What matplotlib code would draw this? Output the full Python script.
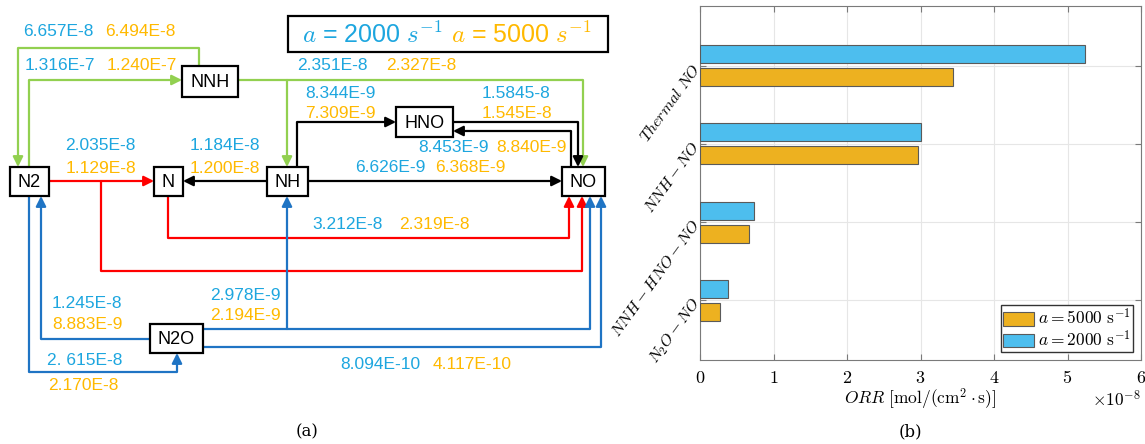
import numpy as np
import matplotlib.pyplot as plt
from matplotlib.patches import Rectangle

plt.rcParams['mathtext.fontset'] = 'cm'
plt.rcParams['font.family'] = ['Liberation Sans', 'DejaVu Sans']

# (b) ORR of each NO pathway, in 1e-8 mol/(cm2 s)
pathways = [r'$N_2O-NO$', r'$NNH-HNO-NO$', r'$NNH-NO$', r'$Thermal\ NO$']
orr_2000 = [0.38, 0.74, 3.01, 5.24]
orr_5000 = [0.27, 0.67, 2.96, 3.44]

# (a) reaction rates written along each path
rate_2000 = ['6.657E-8', '1.316E-7', '2.351E-8', '8.344E-9', '1.5845-8', '8.453E-9',
             '6.626E-9', '1.184E-8', '2.035E-8', '3.212E-8', '1.245E-8', '2. 615E-8',
             '2.978E-9', '8.094E-10']
rate_5000 = ['6.494E-8', '1.240E-7', '2.327E-8', '7.309E-9', '1.545E-8', '8.840E-9',
             '6.368E-9', '1.200E-8', '1.129E-8', '2.319E-8', '8.883E-9', '2.170E-8',
             '2.194E-9', '4.117E-10']

# layout of the path diagram (pixel units)
nodes = {'N2': (10, 167, 39, 29), 'N': (154, 167, 29, 29), 'NH': (267, 167, 41, 29),
         'NNH': (182, 66, 56, 31), 'HNO': (396, 107, 57, 30), 'NO': (562, 167, 43, 29),
         'N2O': (150, 324, 53, 29)}
# x/y of the 2000 label and of the 5000 label
label_pos = [(23, 32, 105, 32), (25, 66, 107, 66), (297, 66, 386, 66),
             (305, 93, 305, 113), (482, 93, 482, 113), (418, 147, 496, 147),
             (355, 167, 435, 167), (190, 145, 190, 168), (65, 145, 66, 168),
             (312, 224, 399, 224), (52, 303, 52, 324), (47, 360, 48, 385),
             (210, 295, 210, 315), (340, 364, 433, 364)]
GREEN, RED, BLUE, BLACK = '#92D050', '#FF0000', '#1F74C4', 'black'
paths = [
    (GREEN, [(199, 66), (199, 48), (18, 48), (18, 167)]),
    (GREEN, [(29, 167), (29, 80), (182, 80)]),
    (GREEN, [(238, 80), (583, 80), (583, 167)]),
    (GREEN, [(287, 80), (287, 167)]),
    (BLACK, [(297, 167), (297, 122), (396, 122)]),
    (BLACK, [(453, 122), (578, 122), (578, 167)]),
    (BLACK, [(571, 167), (571, 131), (453, 131)]),
    (BLACK, [(308, 181), (562, 181)]),
    (BLACK, [(267, 181), (183, 181)]),
    (RED, [(49, 181), (154, 181)]),
    (RED, [(101, 181), (101, 271), (582, 271), (582, 196)]),
    (RED, [(168, 196), (168, 238), (569, 238), (569, 196)]),
    (BLUE, [(150, 339), (41, 339), (41, 196)]),
    (BLUE, [(29, 196), (29, 372), (177, 372), (177, 353)]),
    (BLUE, [(203, 329), (590, 329), (590, 196)]),
    (BLUE, [(287, 329), (287, 196)]),
    (BLUE, [(203, 347), (601, 347), (601, 196)]),
]
C2000, C5000 = '#1DA6DF', '#FFB900'

fig = plt.figure(figsize=(11.45, 4.44), dpi=100)

# ---------------- (a)
ax1 = fig.add_axes([0, 0, 620 / 1145, 1])
ax1.set_xlim(0, 620)
ax1.set_ylim(444, 0)
ax1.axis('off')

for col, pts in paths:
    xs = [p[0] for p in pts]
    ys = [p[1] for p in pts]
    ax1.plot(xs[:-1], ys[:-1], color=col, lw=1.6, solid_capstyle='butt', zorder=2)
    ax1.annotate('', xy=pts[-1], xytext=pts[-2],
                 arrowprops=dict(arrowstyle='-|>,head_length=0.6,head_width=0.3',
                                 color=col, lw=1.6, shrinkA=0, shrinkB=0,
                                 mutation_scale=10), zorder=2)

for name, (x, y, w, h) in nodes.items():
    ax1.add_patch(Rectangle((x, y), w, h, facecolor='white', edgecolor='black',
                            lw=1.6, zorder=3))
    ax1.text(x + w / 2, y + h / 2 + 1, name, ha='center', va='center',
             fontsize=13, zorder=4)

for r2, r5, (x2, y2, x5, y5) in zip(rate_2000, rate_5000, label_pos):
    ax1.text(x2, y2, r2, color=C2000, fontsize=12.5, ha='left', va='center')
    ax1.text(x5, y5, r5, color=C5000, fontsize=12.5, ha='left', va='center')

ax1.add_patch(Rectangle((288, 16), 320, 36, facecolor='white', edgecolor='black', lw=1.6))
ax1.text(302, 35, r'$a$ = 2000 $s^{-1}$', color=C2000, fontsize=18, ha='left', va='center')
ax1.text(451, 35, r'$a$ = 5000 $s^{-1}$', color=C5000, fontsize=18, ha='left', va='center')
ax1.text(307, 432, '(a)', fontsize=12, ha='center', va='center', family='DejaVu Serif')

# ---------------- (b)
ax = fig.add_axes([700 / 1145, 84 / 444, 441 / 1145, 354 / 444])
y = np.arange(1, len(pathways) + 1)
ax.barh(y - 0.145, orr_5000, height=0.23, color='#EDB120', edgecolor='#5a5a5a',
        lw=0.8, label=r'$a = 5000\ \mathrm{s}^{-1}$', zorder=3)
ax.barh(y + 0.145, orr_2000, height=0.23, color='#4DBEEE', edgecolor='#5a5a5a',
        lw=0.8, label=r'$a = 2000\ \mathrm{s}^{-1}$', zorder=3)
ax.set_xlim(0, 6)
ax.set_ylim(0.24, 4.76)
ax.set_xticks(range(7))
ax.set_xticklabels([f'${i}$' for i in range(7)], fontsize=13)
ax.set_yticks(y)
ax.set_yticklabels(pathways, rotation=54, fontsize=11.5, ha='right', va='center',
                   rotation_mode='anchor')
ax.tick_params(direction='in', top=True, right=True, length=4, color='#7a7a7a')
ax.tick_params(axis='x', pad=7)
ax.tick_params(axis='y', pad=2)
ax.grid(True, color='#e6e6e6', lw=0.8, zorder=0)
for s in ax.spines.values():
    s.set_color('#7a7a7a')
ax.set_xlabel(r'$ORR\ [\mathrm{mol/(cm^2\cdot s)}]$', fontsize=12.5, labelpad=0)
ax.text(1.0, -0.11, r'$\times 10^{-8}$', transform=ax.transAxes, ha='right',
        va='center', fontsize=12.5)
ax.legend(loc='lower right', fontsize=12.5, frameon=True, fancybox=False,
          edgecolor='#333333', framealpha=1, handlelength=1.8, handleheight=0.85,
          borderpad=0.15, labelspacing=0.1, handletextpad=0.2, borderaxespad=0.45)
fig.text(910 / 1145, 1 - 432 / 444, '(b)', fontsize=12, ha='center', va='center',
         family='DejaVu Serif')

fig.savefig('out.png', dpi=100)
